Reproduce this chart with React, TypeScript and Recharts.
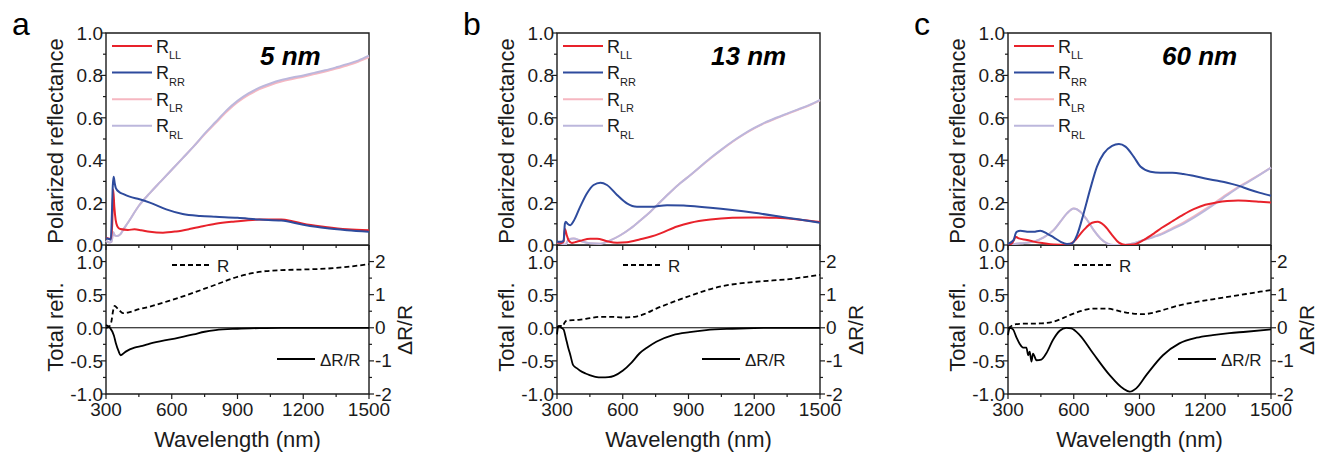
import React from "react";
import {
  LineChart,
  Line,
  XAxis,
  YAxis,
  ReferenceArea,
  ReferenceLine,
  Legend,
  Label,
} from "recharts";

type Pt = [number, number];

const FONT = '"Liberation Sans", Arial, Helvetica, sans-serif';
const INK = "#1b1b1b";
const RED = "#e8222b";
const BLUE = "#2e4b9d";
const PINK = "#f6b7c1";
const LAV = "#bcb7dc";

const letters = ["a", "b", "c"];
const thickness = ["5 nm", "13 nm", "60 nm"];
const wlTicks = [300, 450, 600, 750, 900, 1050, 1200, 1350, 1500];
const reflTicks = [0, 0.1, 0.2, 0.3, 0.4, 0.5, 0.6, 0.7, 0.8, 0.9, 1];
const totalTicks = [-1, -0.75, -0.5, -0.25, 0, 0.25, 0.5, 0.75, 1];
const dRTicks = [-2, -1.5, -1, -0.5, 0, 0.5, 1, 1.5, 2];
const topOrder = ["LL", "RR", "LR", "RL"];

// panel a (5 nm)
const aLL: Pt[] = [[300,0.035],[315,0.03],[322,0.028],[328,0.09],[333,0.262],[338,0.18],[344,0.118],[352,0.087],[365,0.075],[400,0.071],[430,0.074],[460,0.07],[500,0.062],[560,0.058],[620,0.064],[680,0.075],[730,0.086],[800,0.1],[880,0.11],[1000,0.12],[1100,0.12],[1150,0.112],[1200,0.1],[1300,0.085],[1400,0.074],[1500,0.07]];
const aRR: Pt[] = [[300,0.032],[315,0.028],[322,0.025],[327,0.15],[331,0.28],[335,0.322],[340,0.29],[345,0.268],[360,0.25],[380,0.24],[408,0.228],[453,0.216],[500,0.2],[575,0.168],[650,0.146],[730,0.137],[800,0.133],[900,0.128],[1000,0.12],[1100,0.115],[1200,0.096],[1300,0.08],[1400,0.07],[1500,0.063]];
const aLR: Pt[] = [[300,0.02],[315,0.012],[325,0.015],[333,0.06],[340,0.045],[350,0.042],[365,0.05],[380,0.075],[400,0.105],[450,0.185],[500,0.245],[550,0.3],[600,0.355],[650,0.41],[700,0.465],[750,0.522],[800,0.575],[850,0.628],[900,0.673],[950,0.708],[1000,0.735],[1050,0.755],[1100,0.771],[1150,0.783],[1200,0.794],[1250,0.806],[1300,0.818],[1350,0.832],[1400,0.847],[1450,0.864],[1500,0.886]];
const aRL: Pt[] = [[300,0.02],[315,0.012],[325,0.015],[333,0.06],[340,0.045],[350,0.042],[365,0.05],[380,0.075],[400,0.105],[450,0.185],[500,0.245],[550,0.3],[600,0.355],[650,0.41],[700,0.465],[750,0.525],[800,0.58],[850,0.635],[900,0.68],[950,0.715],[1000,0.742],[1050,0.762],[1100,0.778],[1150,0.79],[1200,0.8],[1250,0.812],[1300,0.824],[1350,0.838],[1400,0.853],[1450,0.87],[1500,0.893]];
const aR: Pt[] = [[300,0.0],[315,0.02],[325,0.1],[332,0.25],[340,0.33],[350,0.3],[365,0.25],[378,0.22],[400,0.23],[450,0.28],[500,0.32],[600,0.42],[700,0.53],[750,0.59],[800,0.65],[900,0.77],[960,0.82],[1030,0.856],[1100,0.87],[1200,0.88],[1336,0.9],[1400,0.92],[1500,0.96]];
const aDR: Pt[] = [[300,0.08],[318,0.0],[336,-0.23],[345,-0.47],[357,-0.7],[367,-0.83],[390,-0.72],[430,-0.6],[466,-0.55],[500,-0.48],[600,-0.34],[700,-0.2],[750,-0.12],[800,-0.07],[900,-0.03],[1000,-0.01],[1100,0],[1200,0],[1500,0]];

// panel b (13 nm)
const bLL: Pt[] = [[300,0.012],[320,0.01],[330,0.015],[336,0.075],[345,0.045],[353,0.022],[368,0.01],[385,0.014],[406,0.02],[452,0.03],[483,0.03],[528,0.018],[574,0.011],[619,0.013],[680,0.027],[730,0.04],[772,0.055],[848,0.087],[909,0.105],[1000,0.12],[1100,0.128],[1200,0.13],[1300,0.128],[1400,0.12],[1500,0.108]];
const bRR: Pt[] = [[300,0.015],[320,0.015],[330,0.02],[336,0.1],[340,0.11],[348,0.1],[361,0.093],[376,0.113],[406,0.181],[437,0.244],[467,0.283],[498,0.294],[528,0.283],[574,0.236],[619,0.196],[665,0.18],[726,0.18],[802,0.188],[878,0.186],[909,0.184],[1000,0.176],[1100,0.165],[1200,0.152],[1300,0.137],[1400,0.121],[1500,0.105]];
const bLR: Pt[] = [[300,0.012],[320,0.008],[338,0.0],[353,0.026],[376,0.031],[406,0.02],[452,0.008],[498,0.006],[543,0.022],[589,0.046],[635,0.078],[680,0.116],[726,0.157],[772,0.204],[818,0.25],[863,0.292],[909,0.33],[1000,0.408],[1050,0.448],[1100,0.486],[1150,0.52],[1200,0.55],[1250,0.576],[1300,0.598],[1350,0.618],[1400,0.638],[1450,0.658],[1500,0.682]];
const bRL: Pt[] = [[300,0.012],[320,0.008],[338,0.0],[353,0.026],[376,0.031],[406,0.02],[452,0.008],[498,0.006],[543,0.022],[589,0.046],[635,0.078],[680,0.116],[726,0.157],[772,0.204],[818,0.25],[863,0.292],[909,0.33],[1000,0.41],[1050,0.45],[1100,0.488],[1150,0.522],[1200,0.552],[1250,0.578],[1300,0.6],[1350,0.62],[1400,0.64],[1450,0.66],[1500,0.685]];
const bR: Pt[] = [[300,0.01],[315,0.03],[325,0.02],[335,0.08],[345,0.11],[400,0.12],[450,0.145],[495,0.166],[550,0.165],[601,0.155],[662,0.17],[700,0.21],[753,0.29],[830,0.39],[905,0.48],[980,0.565],[1057,0.63],[1133,0.67],[1209,0.695],[1285,0.715],[1361,0.735],[1430,0.765],[1500,0.8]];
const bDR: Pt[] = [[300,-0.2],[306,0.05],[312,0.04],[320,0.0],[330,-0.05],[340,-0.3],[350,-0.57],[362,-0.85],[373,-1.12],[390,-1.22],[404,-1.29],[430,-1.38],[449,-1.43],[475,-1.48],[505,-1.5],[535,-1.49],[560,-1.45],[601,-1.29],[640,-1.05],[677,-0.77],[715,-0.58],[753,-0.42],[829,-0.22],[905,-0.13],[981,-0.07],[1100,-0.03],[1200,-0.01],[1300,0],[1500,0]];

// panel c (60 nm)
const cLL: Pt[] = [[300,0.0],[318,0.008],[330,0.03],[334,0.039],[349,0.031],[387,0.024],[417,0.016],[463,0.008],[508,0.002],[569,0.0],[600,0.016],[645,0.07],[684,0.105],[710,0.11],[737,0.094],[775,0.047],[806,0.011],[836,0.0],[874,0.002],[920,0.024],[965,0.054],[1000,0.08],[1050,0.112],[1100,0.143],[1150,0.17],[1200,0.19],[1250,0.2],[1300,0.207],[1350,0.21],[1400,0.208],[1450,0.204],[1500,0.2]];
const cRR: Pt[] = [[300,0.005],[326,0.024],[335,0.055],[341,0.063],[356,0.067],[387,0.063],[417,0.062],[447,0.067],[478,0.054],[508,0.036],[539,0.016],[569,0.005],[592,0.007],[615,0.047],[645,0.149],[676,0.267],[706,0.37],[737,0.432],[775,0.467],[806,0.476],[836,0.464],[874,0.416],[904,0.37],[950,0.346],[996,0.341],[1050,0.341],[1100,0.335],[1150,0.325],[1200,0.314],[1250,0.304],[1300,0.294],[1350,0.28],[1400,0.262],[1450,0.246],[1500,0.232]];
const cLR: Pt[] = [[300,0.0],[330,0.005],[360,0.008],[417,0.016],[463,0.036],[508,0.07],[539,0.11],[569,0.149],[600,0.172],[630,0.157],[661,0.118],[691,0.07],[722,0.031],[752,0.008],[783,0.0],[828,0.0],[874,0.008],[920,0.024],[965,0.04],[1000,0.053],[1050,0.08],[1100,0.106],[1150,0.136],[1200,0.169],[1250,0.204],[1300,0.24],[1350,0.273],[1400,0.302],[1450,0.333],[1500,0.365]];
const cRL: Pt[] = [[300,0.0],[330,0.005],[360,0.008],[417,0.016],[463,0.036],[508,0.07],[539,0.11],[569,0.149],[600,0.172],[630,0.157],[661,0.118],[691,0.07],[722,0.031],[752,0.008],[783,0.0],[828,0.0],[874,0.008],[920,0.024],[965,0.038],[1000,0.05],[1050,0.075],[1100,0.1],[1150,0.13],[1200,0.163],[1250,0.198],[1300,0.235],[1350,0.27],[1400,0.3],[1450,0.332],[1500,0.365]];
const cR: Pt[] = [[300,-0.01],[323,0.04],[353,0.06],[445,0.065],[505,0.09],[540,0.13],[581,0.19],[630,0.25],[688,0.29],[748,0.29],[824,0.24],[870,0.215],[915,0.205],[960,0.225],[1000,0.26],[1082,0.34],[1160,0.39],[1234,0.43],[1310,0.47],[1386,0.51],[1450,0.545],[1500,0.57]];
const cDR: Pt[] = [[300,-0.22],[308,0.0],[323,-0.05],[338,-0.28],[353,-0.48],[369,-0.6],[384,-0.6],[392,-0.83],[399,-0.72],[407,-1.02],[414,-0.78],[430,-0.98],[452,-0.96],[475,-0.77],[505,-0.37],[536,-0.09],[566,0.0],[589,-0.02],[627,-0.22],[688,-0.77],[764,-1.43],[824,-1.83],[855,-1.93],[885,-1.83],[931,-1.43],[1007,-0.83],[1082,-0.47],[1160,-0.3],[1234,-0.22],[1310,-0.16],[1386,-0.12],[1500,-0.05]];

const panels = [
  { x0: 106, LL: aLL, RR: aRR, LR: aLR, RL: aRL, R: aR, DR: aDR, drX: 171 },
  { x0: 557, LL: bLL, RR: bRR, LR: bLR, RL: bRL, R: bR, DR: bDR, drX: 145 },
  { x0: 1008, LL: cLL, RR: cRR, LR: cLR, RL: cRL, R: cR, DR: cDR, drX: 170 },
];

const rows = (pts: Pt[]) => pts.map(([wl, v]) => ({ wl, v }));

const PLOT_W = 263;
const AX_W = 100;

function xTick(withLabel: boolean) {
  return (p: any) => {
    const v = p.payload.value;
    const major = v % 300 === 0;
    return (
      <g>
        <line x1={p.x} x2={p.x} y1={p.y} y2={p.y + (major ? 5 : 3)} stroke={INK} strokeWidth={1.2} />
        {withLabel && major && (
          <text x={p.x} y={p.y + 22} textAnchor="middle" fontSize={19} fontFamily={FONT} fill={INK}>
            {v}
          </text>
        )}
      </g>
    );
  };
}

function leftTick(isMajor: (v: number) => boolean, fmt: (v: number) => string) {
  return (p: any) => {
    const v = p.payload.value;
    const major = isMajor(v);
    return (
      <g>
        <line x1={p.x - (major ? 5 : 3)} x2={p.x} y1={p.y} y2={p.y} stroke={INK} strokeWidth={1.2} />
        {major && (
          <text x={p.x - 3} y={p.y + 7} textAnchor="end" fontSize={19} fontFamily={FONT} fill={INK}>
            {fmt(v)}
          </text>
        )}
      </g>
    );
  };
}

function rightTick(p: any) {
  const v = p.payload.value;
  const major = Number.isInteger(v);
  return (
    <g>
      <line x1={p.x} x2={p.x + (major ? 5 : 3)} y1={p.y} y2={p.y} stroke={INK} strokeWidth={1.2} />
      {major && (
        <text x={p.x + 6} y={p.y + 6.5} textAnchor="start" fontSize={19} fontFamily={FONT} fill={INK}>
          {v < 0 ? `-${Math.abs(v)}` : v}
        </text>
      )}
    </g>
  );
}

const vTitle = (text: string, cx: number, cy: number, size = 22) => () =>
  (
    <text
      x={cx}
      y={cy}
      transform={`rotate(-90, ${cx}, ${cy})`}
      textAnchor="middle"
      dy="0.36em"
      fontSize={size}
      fontFamily={FONT}
      fill={INK}
    >
      {text}
    </text>
  );

const topLegend = (props: any) => {
  const payload = props.payload || [];
  const items = topOrder.map((k) => payload.find((e: any) => e.value === k)).filter(Boolean);
  return (
    <svg width={90} height={120} style={{ display: "block", overflow: "visible" }}>
      {items.map((e: any, i: number) => {
        const y = 10 + i * 26.6;
        return (
          <g key={e.value}>
            <line x1={0} x2={40} y1={y} y2={y} stroke={e.color} strokeWidth={2} />
            <text x={44} y={y + 6.5} fontSize={18} fontFamily={FONT} fill={INK}>
              R
              <tspan fontSize={11} dy={6.5}>
                {e.value}
              </tspan>
            </text>
          </g>
        );
      })}
    </svg>
  );
};

const bottomLegend = (drX: number) => (props: any) => {
  const payload = props.payload || [];
  const r = payload.find((e: any) => e.value === "R");
  const dr = payload.find((e: any) => e.value === "ΔR/R");
  const x0 = AX_W;
  return (
    <svg width={423} height={130} style={{ display: "block", overflow: "visible" }}>
      {r && (
        <g>
          <line x1={x0 + 66} x2={x0 + 103} y1={20} y2={20} stroke={r.color} strokeWidth={1.8} strokeDasharray="5 3" />
          <text x={x0 + 111} y={27} fontSize={17} fontFamily={FONT} fill={INK}>
            R
          </text>
        </g>
      )}
      {dr && (
        <g>
          <line x1={x0 + drX} x2={x0 + drX + 38} y1={114} y2={114} stroke={dr.color} strokeWidth={1.8} />
          <text x={x0 + drX + 43} y={120.5} fontSize={17} fontFamily={FONT} fill={INK}>
            ΔR/R
          </text>
        </g>
      )}
    </svg>
  );
};

function Panel({ idx }: { idx: number }) {
  const p = panels[idx];
  const left = p.x0 - AX_W;
  const chartW = AX_W + PLOT_W + 60;
  const series = [
    { key: "LR", data: p.LR, color: PINK },
    { key: "RL", data: p.RL, color: LAV },
    { key: "LL", data: p.LL, color: RED },
    { key: "RR", data: p.RR, color: BLUE },
  ];
  return (
    <>
      <div style={{ position: "absolute", left, top: 0 }}>
        <LineChart width={chartW} height={260} margin={{ top: 33, right: 60, bottom: 0, left: 0 }}>
          <XAxis
            dataKey="wl"
            type="number"
            domain={[300, 1500]}
            ticks={wlTicks}
            interval={0}
            height={15}
            axisLine={false}
            tickLine={false}
            tickSize={0}
            tickMargin={0}
            tick={xTick(false)}
          />
          <YAxis
            type="number"
            domain={[0, 1]}
            ticks={reflTicks}
            interval={0}
            width={AX_W}
            allowDataOverflow
            axisLine={false}
            tickLine={false}
            tickSize={0}
            tickMargin={0}
            tick={leftTick((v) => Math.round(v * 10) % 2 === 0, (v) => v.toFixed(1))}
          >
            <Label content={vTitle("Polarized reflectance", 49, 141)} />
          </YAxis>
          <ReferenceArea x1={300} x2={1500} y1={0} y2={1} fill="none" stroke={INK} strokeWidth={1.4}>
            <Label
              content={() => (
                <g>
                  <text x={6} y={35} fontSize={32} fontFamily={FONT} fill="#000">
                    {letters[idx]}
                  </text>
                  <text x={AX_W + 154} y={65} fontSize={26} fontWeight="bold" fontStyle="italic" fontFamily={FONT} fill="#000">
                    {thickness[idx]}
                  </text>
                </g>
              )}
            />
          </ReferenceArea>
          {series.map((s) => (
            <Line
              key={s.key}
              data={rows(s.data)}
              dataKey="v"
              name={s.key}
              type="monotone"
              stroke={s.color}
              strokeWidth={2}
              dot={false}
              isAnimationActive={false}
            />
          ))}
          <Legend
            layout="horizontal"
            verticalAlign="middle"
            align="center"
            content={topLegend}
            wrapperStyle={{ position: "absolute", left: AX_W + 6, top: 36, width: 90, height: 120 }}
          />
        </LineChart>
      </div>
      <div style={{ position: "absolute", left, top: 245 }}>
        <LineChart width={chartW} height={208} margin={{ top: 0, right: 0, bottom: 0, left: 0 }}>
          <XAxis
            dataKey="wl"
            type="number"
            domain={[300, 1500]}
            ticks={wlTicks}
            interval={0}
            height={59}
            axisLine={false}
            tickLine={false}
            tickSize={0}
            tickMargin={0}
            tick={xTick(true)}
          >
            <Label
              content={() => (
                <text x={AX_W + PLOT_W / 2} y={202} textAnchor="middle" fontSize={22} fontFamily={FONT} fill={INK}>
                  Wavelength (nm)
                </text>
              )}
            />
          </XAxis>
          <YAxis
            yAxisId="l"
            type="number"
            domain={[-1, 1.25]}
            ticks={totalTicks}
            interval={0}
            width={AX_W}
            allowDataOverflow
            axisLine={false}
            tickLine={false}
            tickSize={0}
            tickMargin={0}
            tick={leftTick((v) => Math.round(v * 4) % 2 === 0, (v) => v.toFixed(1))}
          >
            <Label content={vTitle("Total refl.", 49, 82)} />
          </YAxis>
          <YAxis
            yAxisId="r"
            orientation="right"
            type="number"
            domain={[-2, 2.5]}
            ticks={dRTicks}
            interval={0}
            width={60}
            allowDataOverflow
            axisLine={false}
            tickLine={false}
            tickSize={0}
            tickMargin={0}
            tick={rightTick}
          >
            <Label content={vTitle("ΔR/R", AX_W + PLOT_W + 35, 85, 21)} />
          </YAxis>
          <ReferenceArea yAxisId="l" x1={300} x2={1500} y1={-1} y2={1.25} fill="none" stroke={INK} strokeWidth={1.4} />
          <ReferenceLine yAxisId="l" y={0} stroke="#000" strokeWidth={1} />
          <Line
            yAxisId="l"
            data={rows(p.R)}
            dataKey="v"
            name="R"
            type="monotone"
            stroke="#000"
            strokeWidth={1.8}
            strokeDasharray="5 3"
            dot={false}
            isAnimationActive={false}
          />
          <Line
            yAxisId="r"
            data={rows(p.DR)}
            dataKey="v"
            name="ΔR/R"
            type="monotone"
            stroke="#000"
            strokeWidth={1.8}
            dot={false}
            isAnimationActive={false}
          />
          <Legend
            layout="horizontal"
            verticalAlign="middle"
            align="center"
            content={bottomLegend(p.drX)}
            wrapperStyle={{ position: "absolute", left: 0, top: 0, width: chartW, height: 130, pointerEvents: "none" }}
          />
        </LineChart>
      </div>
    </>
  );
}

export default function App() {
  return (
    <div
      style={{
        position: "absolute",
        left: 0,
        top: 0,
        width: 1319,
        height: 453,
        background: "#fff",
        fontFamily: FONT,
        overflow: "hidden",
      }}
    >
      {panels.map((_, i) => (
        <Panel key={i} idx={i} />
      ))}
    </div>
  );
}
